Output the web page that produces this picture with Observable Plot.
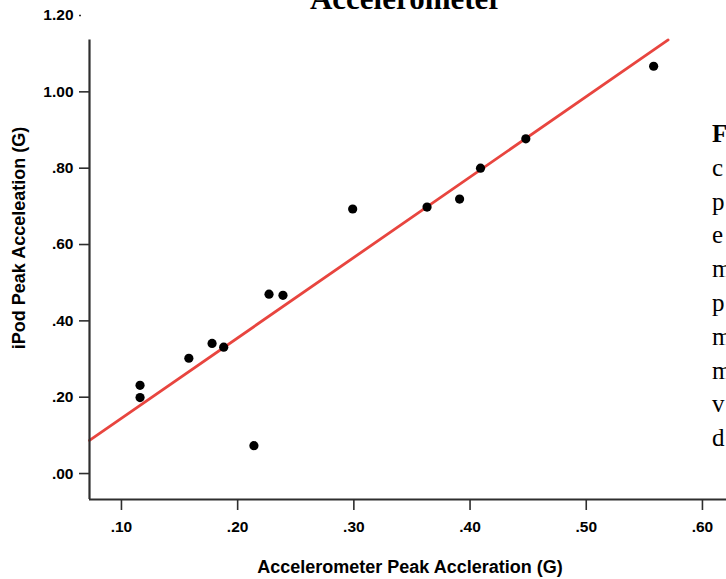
<!DOCTYPE html>
<html>
<head>
<meta charset="utf-8">
<script src="https://cdn.jsdelivr.net/npm/d3@7"></script>
<script src="https://cdn.jsdelivr.net/npm/@observablehq/plot@0.6"></script>
<style>
  html, body { margin: 0; padding: 0; background: #fff; }
  #wrap { position: relative; width: 726px; height: 579px; overflow: hidden; background: #fff; }
  #chart { position: absolute; left: 0; top: 0; }
  .title { position: absolute; left: 206px; width: 400px; top: -17.5px; text-align: center;
           font: bold 31px/31px "Liberation Serif", "Times New Roman", serif; color: #000; white-space: nowrap; }
  .ylab { position: absolute; left: 19px; top: 238px; transform: translate(-50%, -50%) rotate(-90deg);
          font: bold 18px "Liberation Sans", Arial, sans-serif; color: #000; white-space: nowrap; }
  .xlab { position: absolute; left: 410px; top: 567px; transform: translate(-50%, -50%);
          font: bold 18px "Liberation Sans", Arial, sans-serif; color: #000; white-space: nowrap; }
  .caption { position: absolute; left: 712px; top: 117px; font: 25px/33.8px "Liberation Serif", "Times New Roman", serif; color: #000; white-space: nowrap; }
  .caption b { font-weight: bold; }
</style>
</head>
<body>
<div id="wrap">
  <div id="chart"></div>
  <div class="title" id="title"></div>
  <div class="ylab" id="ylab"></div>
  <div class="xlab" id="xlab"></div>
  <div class="caption" id="caption"></div>
</div>
<script>
// ---- data ----
const titleText = "Accelerometer";
const xLabel = "Accelerometer Peak Accleration (G)";
const yLabel = "iPod Peak Acceleation (G)";
const captionLetters = ["F", "c", "p", "e", "m", "p", "m", "m", "v", "d"];

const accelPeak = [0.558, 0.448, 0.409, 0.391, 0.363, 0.299, 0.239, 0.227, 0.214, 0.188, 0.178, 0.158, 0.116, 0.116];
const ipodPeak  = [1.067, 0.877, 0.800, 0.719, 0.698, 0.693, 0.467, 0.470, 0.073, 0.331, 0.341, 0.302, 0.231, 0.199];

// fit line (as drawn in the picture)
const fitIntercept = -0.066;
const fitSlope = 2.107;

const xTicks = [0.10, 0.20, 0.30, 0.40, 0.50, 0.60];
const yTicks = [0.00, 0.20, 0.40, 0.60, 0.80, 1.00];
const yTopTick = [1.20];

// axis extents
const xDomain = [0.0725, 0.6207];
const yDomain = [-0.068, 1.2];
const yAxisTop = 1.136;

// ---- build ----
const points = accelPeak.map((x, i) => ({x, y: ipodPeak[i]}));
const xEnd = (yAxisTop - fitIntercept) / fitSlope;
const fitLine = [xDomain[0], xEnd].map(x => ({x, y: fitIntercept + fitSlope * x}));

const fmt = v => {
  const s = d3.format(".2f")(v);
  return s.startsWith("0") ? s.slice(1) : s;
};

const axisColor = "#2e2e2e";
const tickFont = {fontSize: 15.5, fontWeight: "bold", fontFamily: "'Liberation Sans', Arial, sans-serif"};

const chart = Plot.plot({
  width: 726,
  height: 579,
  marginLeft: 89,
  marginRight: 0,
  marginTop: 15,
  marginBottom: 80,
  x: {domain: xDomain},
  y: {domain: yDomain},
  style: {background: "transparent", overflow: "visible"},
  marks: [
    Plot.line(fitLine, {x: "x", y: "y", stroke: "#e8453f", strokeWidth: 2.8}),
    Plot.dot(points, {x: "x", y: "y", r: 4.6, fill: "#000", stroke: "none"}),
    Plot.ruleX([xDomain[0]], {y1: yDomain[0], y2: yAxisTop, stroke: axisColor, strokeWidth: 2.2}),
    Plot.ruleY([yDomain[0]], {x1: xDomain[0], x2: xDomain[1], stroke: axisColor, strokeWidth: 2.2}),
    Plot.axisX(xTicks, {anchor: "bottom", tickSize: 11, tickPadding: 10, tickFormat: fmt, label: null,
      stroke: axisColor, strokeWidth: 1.6, fill: "#000", ...tickFont}),
    Plot.axisY(yTicks, {anchor: "left", tickSize: 10, tickPadding: 6, tickFormat: fmt, label: null,
      stroke: axisColor, strokeWidth: 1.6, fill: "#000", ...tickFont}),
    Plot.axisY(yTopTick, {anchor: "left", tickSize: 10, tickPadding: 6, tickFormat: fmt, label: null,
      stroke: axisColor, strokeWidth: 1.6, strokeDasharray: "0 8 2 20", fill: "#000", ...tickFont})
  ]
});
document.getElementById("chart").appendChild(chart);

document.getElementById("title").textContent = titleText;
document.getElementById("ylab").textContent = yLabel;
document.getElementById("xlab").textContent = xLabel;
document.getElementById("caption").innerHTML = captionLetters
  .map((c, i) => i === 0 ? `<b>${c}</b>` : c).join("<br>");
</script>
</body>
</html>
